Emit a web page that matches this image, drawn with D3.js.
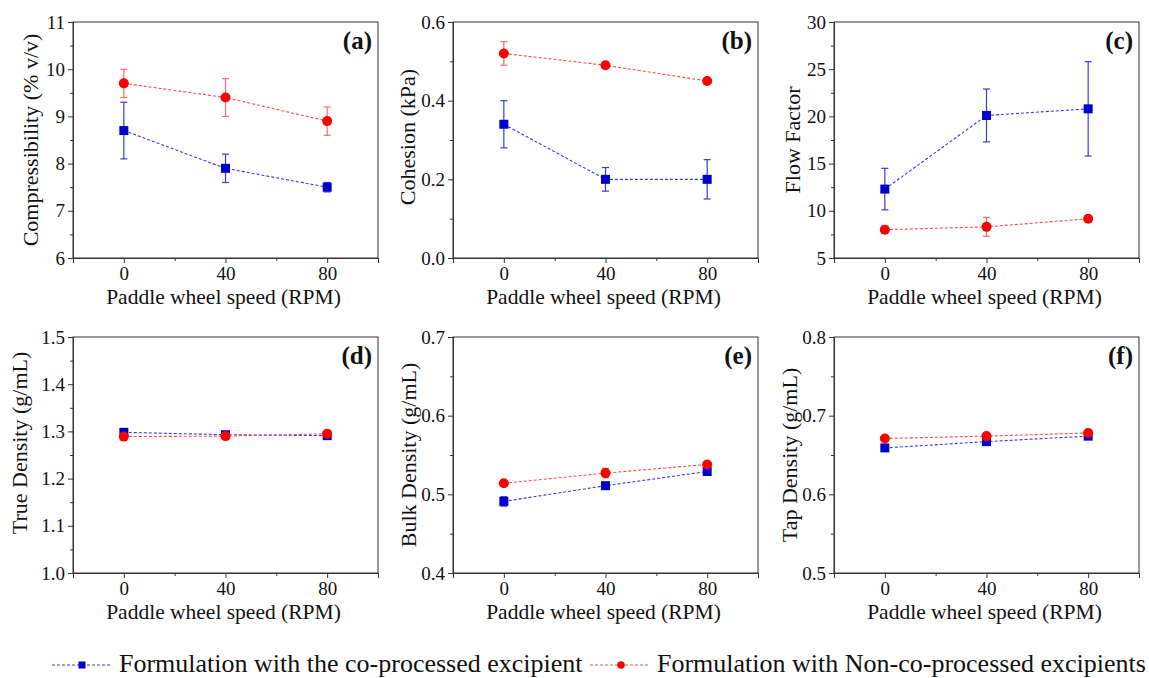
<!DOCTYPE html>
<meta charset="utf-8">
<html>
<head>
<style>
  body { margin: 0; background: #fff; }
</style>
</head>
<body>
<div id="chart"></div>
<script src="https://d3js.org/d3.v7.min.js"></script>
<script>

// paddle wheel speeds (RPM)
var speeds = [0, 40, 80];
var seriesNames = ["Formulation with the co-processed excipient", "Formulation with Non-co-processed excipients"];

// (a) compressibility
var compCo = [8.7, 7.9, 7.5],       compCoErr = [0.6, 0.3, 0.1];
var compNon = [9.7, 9.4, 8.9],      compNonErr = [0.3, 0.4, 0.3];
// (b) cohesion
var cohCo = [0.34, 0.20, 0.20],     cohCoErr = [0.06, 0.03, 0.05];
var cohNon = [0.52, 0.49, 0.45],    cohNonErr = [0.03, 0.005, 0.005];
// (c) flow factor
var ffCo = [12.3, 20.1, 20.8],      ffCoErr = [2.2, 2.8, 5.0];
var ffNon = [8.0, 8.3, 9.15],       ffNonErr = [0.4, 1.0, 0.2];
// (d) true density
var tdCo = [1.298, 1.293, 1.291],   tdCoErr = [0.002, 0.002, 0.002];
var tdNon = [1.289, 1.290, 1.295],  tdNonErr = [0.002, 0.002, 0.002];
// (e) bulk density
var bdCo = [0.491, 0.511, 0.529],   bdCoErr = [0.006, 0.003, 0.003];
var bdNon = [0.514, 0.527, 0.538],  bdNonErr = [0.003, 0.006, 0.003];
// (f) tap density
var tapCo = [0.659, 0.667, 0.674],  tapCoErr = [0.002, 0.003, 0.002];
var tapNon = [0.671, 0.674, 0.678], tapNonErr = [0.002, 0.002, 0.002];

var panelLabels = ["(a)", "(b)", "(c)", "(d)", "(e)", "(f)"];
var yTitles = ["Compressibility (% v/v)", "Cohesion (kPa)", "Flow Factor",
               "True Density (g/mL)", "Bulk Density (g/mL)", "Tap Density (g/mL)"];
var yDomains = [[6, 11], [0, 0.6], [5, 30], [1.0, 1.5], [0.4, 0.7], [0.5, 0.8]];
var yMajor = [[6,7,8,9,10,11], [0,0.2,0.4,0.6], [5,10,15,20,25,30],
              [1.0,1.1,1.2,1.3,1.4,1.5], [0.4,0.5,0.6,0.7], [0.5,0.6,0.7,0.8]];
var yMinor = [[6.5,7.5,8.5,9.5,10.5], [0.1,0.3,0.5], [7.5,12.5,17.5,22.5,27.5],
              [1.05,1.15,1.25,1.35,1.45], [0.45,0.55,0.65], [0.55,0.65,0.75]];
var yFormats = ["d", ".1f", "d", ".1f", ".1f", ".1f"];

var panelSeries = [
  [[compCo, compCoErr], [compNon, compNonErr]],
  [[cohCo, cohCoErr], [cohNon, cohNonErr]],
  [[ffCo, ffCoErr], [ffNon, ffNonErr]],
  [[tdCo, tdCoErr], [tdNon, tdNonErr]],
  [[bdCo, bdCoErr], [bdNon, bdNonErr]],
  [[tapCo, tapCoErr], [tapNon, tapNonErr]]
];

var colors = ["#0000cc", "#ff0000"];
var errColors = ["#3a3ad6", "#ff6a6a"];
var lineColors = ["#3a3aee", "#ff4a4a"];

var FONT = "'Liberation Serif', Tinos, 'Times New Roman', serif";

var W = 1149, H = 678;
var colLeft = [73, 453, 834],
    rowTop = [22, 337],
    pw = 305, ph = 236;
// y title placement: offset of the baseline from the axis, and vertical shift
var yTitleX = [-35, -38, -34, -46, -37, -37];
var yTitleDy = [0, -3, 0, -12, 0, 0];

var svg = d3.select("#chart").append("svg")
  .attr("width", W)
  .attr("height", H)
  .attr("font-family", FONT);

var x = d3.scaleLinear().domain([-20, 100]).range([0, pw]);

panelLabels.forEach(function(lab, i) {
  var g = svg.append("g")
    .attr("transform", "translate(" + colLeft[i % 3] + "," + rowTop[Math.floor(i / 3)] + ")");

  var y = d3.scaleLinear().domain(yDomains[i]).range([ph, 0]);

  // frame
  g.append("rect")
    .attr("width", pw).attr("height", ph)
    .attr("fill", "none").attr("stroke", "#333").attr("stroke-width", 1);

  // x axis
  g.append("g").attr("transform", "translate(0," + ph + ")")
    .call(d3.axisBottom(x).tickValues(speeds).tickSize(5).tickPadding(4).tickFormat(d3.format("d")));
  g.append("g").attr("transform", "translate(0," + ph + ")")
    .call(d3.axisBottom(x).tickValues([20, 60]).tickSize(3).tickFormat(""));

  // y axis
  g.append("g")
    .call(d3.axisLeft(y).tickValues(yMajor[i]).tickSize(5).tickPadding(3).tickFormat(d3.format(yFormats[i])));
  g.append("g")
    .call(d3.axisLeft(y).tickValues(yMinor[i]).tickSize(3).tickFormat(""));

  g.selectAll("g").attr("font-family", FONT);
  g.selectAll(".tick text")
    .attr("fill", "#111")
    .style("font-size", "19px");
  g.selectAll(".domain").attr("stroke", "#333");
  g.selectAll(".tick line").attr("stroke", "#333");

  // axis titles
  g.append("text")
    .attr("x", pw / 2 - 2).attr("y", ph + 46)
    .attr("text-anchor", "middle")
    .attr("fill", "#111")
    .style("font-size", "21.5px")
    .text("Paddle wheel speed (RPM)");

  g.append("text")
    .attr("transform", "translate(" + yTitleX[i] + "," + (ph / 2 + yTitleDy[i]) + ") rotate(-90)")
    .attr("text-anchor", "middle")
    .attr("fill", "#111")
    .style("font-size", "22px")
    .text(yTitles[i]);

  // panel letter
  g.append("text")
    .attr("x", pw - 6).attr("y", 27)
    .attr("text-anchor", "end")
    .attr("fill", "#111")
    .style("font-size", "25px")
    .style("font-weight", "bold")
    .text(lab);

  // series
  panelSeries[i].forEach(function(s, k) {
    var vals = s[0], errs = s[1];
    var pts = speeds.map(function(sp, j) { return {x: sp, y: vals[j], e: errs[j]}; });

    g.append("path")
      .datum(pts)
      .attr("fill", "none")
      .attr("stroke", lineColors[k])
      .attr("stroke-width", 1.1)
      .attr("stroke-dasharray", "3,2")
      .attr("d", d3.line().x(function(d) { return x(d.x); }).y(function(d) { return y(d.y); }));

    var eb = g.append("g").selectAll("g").data(pts).enter().append("g")
      .attr("stroke", errColors[k]).attr("stroke-width", 1.2);
    eb.append("line")
      .attr("x1", function(d) { return x(d.x); }).attr("x2", function(d) { return x(d.x); })
      .attr("y1", function(d) { return y(d.y - d.e); }).attr("y2", function(d) { return y(d.y + d.e); });
    eb.append("line")
      .attr("x1", function(d) { return x(d.x) - 3.5; }).attr("x2", function(d) { return x(d.x) + 3.5; })
      .attr("y1", function(d) { return y(d.y + d.e); }).attr("y2", function(d) { return y(d.y + d.e); });
    eb.append("line")
      .attr("x1", function(d) { return x(d.x) - 3.5; }).attr("x2", function(d) { return x(d.x) + 3.5; })
      .attr("y1", function(d) { return y(d.y - d.e); }).attr("y2", function(d) { return y(d.y - d.e); });

    if (k === 0) {
      g.append("g").selectAll("rect").data(pts).enter().append("rect")
        .attr("x", function(d) { return x(d.x) - 4.5; })
        .attr("y", function(d) { return y(d.y) - 4.5; })
        .attr("width", 9).attr("height", 9)
        .attr("fill", colors[k]);
    } else {
      g.append("g").selectAll("circle").data(pts).enter().append("circle")
        .attr("cx", function(d) { return x(d.x); })
        .attr("cy", function(d) { return y(d.y); })
        .attr("r", 5)
        .attr("fill", colors[k]);
    }
  });
});

// legend
var legend = svg.append("g").attr("transform", "translate(0,665)");
var legX = [[52, 110, 82, 119], [590, 648, 621, 657]];
seriesNames.forEach(function(name, k) {
  var p = legX[k];
  legend.append("line")
    .attr("x1", p[0]).attr("x2", p[1]).attr("y1", 0).attr("y2", 0)
    .attr("stroke", lineColors[k]).attr("stroke-width", 1).attr("stroke-dasharray", "3,2");
  if (k === 0) {
    legend.append("rect").attr("x", p[2] - 3.5).attr("y", -3.5).attr("width", 7).attr("height", 7).attr("fill", colors[k]);
  } else {
    legend.append("circle").attr("cx", p[2]).attr("cy", 0).attr("r", 3.8).attr("fill", colors[k]);
  }
  legend.append("text")
    .attr("x", p[3]).attr("y", 7)
    .attr("fill", "#111")
    .style("font-size", "26px")
    .text(name);
});

</script>
</body>
</html>
